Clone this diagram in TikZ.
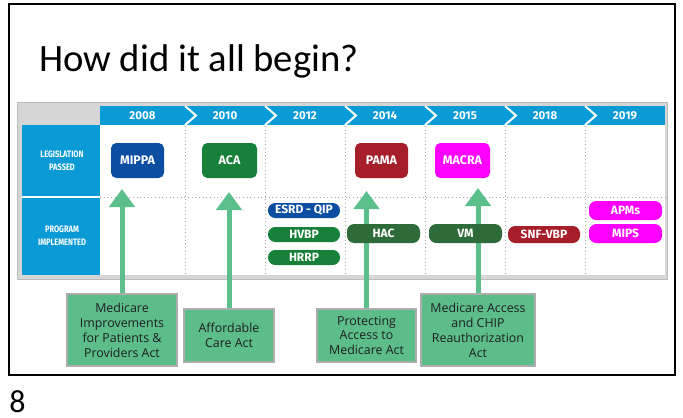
\documentclass[tikz,border=0pt]{standalone}
\usepackage{fontspec}
\setmainfont{Carlito}
\newfontfamily\firab{Fira Sans}
\newfontfamily\firacond[FakeStretch=0.8]{Fira Sans}
\newfontfamily\opens{Open Sans}
\usetikzlibrary{arrows.meta}
\definecolor{hdrblue}{HTML}{0A9AD6}
\definecolor{panelgray}{HTML}{D6D6D6}
\definecolor{paneledge}{HTML}{BBBBBB}
\definecolor{mipblue}{HTML}{0B4EA2}
\definecolor{acagreen}{HTML}{17813A}
\definecolor{pamared}{HTML}{A51E2A}
\definecolor{macmag}{HTML}{FF00FF}
\definecolor{hacgreen}{HTML}{2D6B39}
\definecolor{arrgreen}{HTML}{5BBF8C}
\definecolor{boxgreen}{HTML}{5CBD8B}
\definecolor{boxedge}{HTML}{ADADAD}
\definecolor{dotgray}{HTML}{A5A5A5}
\pgfdeclarelayer{bg}
\pgfdeclarelayer{mid}
\pgfsetlayers{bg,mid,main}
\tikzset{
  bw/.style={minimum width=#1*0.75pt},
  bh/.style={minimum height=#1*0.75pt},
  legbox/.style={rounded corners=4pt, inner sep=0pt, text=white, font=\firab\bfseries\fontsize{9.3}{10}\selectfont},
  progbox/.style={rounded corners=5.5pt, inner sep=0pt, text=white, font=\firab\bfseries\fontsize{9}{10}\selectfont},
  yearlbl/.style={text=white, inner sep=0pt, font=\firab\bfseries\fontsize{8.6}{10}\selectfont},
  sidelbl/.style={text=white, inner sep=0pt, align=center, font=\firacond\bfseries\fontsize{7}{9.5}\selectfont},
  actbox/.style={fill=boxgreen, draw=boxedge, line width=0.9pt, inner sep=0pt, align=center, text=black!88, font=\opens\fontsize{9.3}{11.2}\selectfont},
  uparrow/.style={draw=arrgreen, line width=3.75pt, -{Triangle[width=18.75pt, length=13.5pt]}},
  sep/.style={dotgray, dotted, line width=0.75pt},
  chev/.style={white, line width=1.5pt}
}
\begin{document}
\begin{tikzpicture}[x=0.75pt, y=-0.75pt]
\path[use as bounding box] (0,0) rectangle (683,418);
% panel
\begin{pgfonlayer}{bg}
\fill[white] (0,0) rectangle (683,418);
\fill[panelgray] (17,102) rectangle (668,280);
\draw[paneledge, line width=1.2pt] (17.5,102.5) rectangle (667.5,279.5);
\fill[white] (100,125) rectangle (665,275);
\fill[hdrblue] (100,106) rectangle (665,125);
\fill[hdrblue] (22,125) rectangle (100,275);
\draw[white, line width=0.8pt] (22,197) -- (100,197);
\foreach \x in {185,265,345,425,505,585}{
  \draw[sep] (\x,126) -- (\x,275);
  \draw[chev] (\x,106) -- (\x+11,115.5) -- (\x,125);
}
\draw[sep] (100,197) -- (665,197);
\end{pgfonlayer}
% slide frame
\draw[black, line width=1.6pt] (9,4) rectangle (675,375);
\node[anchor=base west, inner sep=0pt, font=\fontsize{29}{34}\selectfont] (title) at (39,71) {How did it all begin?};
\node[anchor=base west, inner sep=0pt, font=\fontsize{24}{28}\selectfont] (pagenum) at (9,412) {8};

\node[yearlbl] (y08) at (142.5,115.5) {2008};
\node[yearlbl] (y10) at (225,115.5) {2010};
\node[yearlbl] (y12) at (305,115.5) {2012};
\node[yearlbl] (y14) at (385,115.5) {2014};
\node[yearlbl] (y15) at (465,115.5) {2015};
\node[yearlbl] (y18) at (545,115.5) {2018};
\node[yearlbl] (y19) at (625,115.5) {2019};

\node[sidelbl] (leg) at (62,161) {LEGISLATION\\PASSED};
\node[sidelbl] (prog) at (62,236) {PROGRAM\\IMPLEMENTED};

% legislation
\node[legbox, fill=mipblue, bw=53, bh=35] (mippa) at (137.5,160.5) {MIPPA};
\node[legbox, fill=acagreen, bw=55, bh=35] (aca) at (229.5,160.5) {ACA};
\node[legbox, fill=pamared, bw=53, bh=35] (pama) at (381.5,160.5) {PAMA};
\node[legbox, fill=macmag, bw=55, bh=35] (macra) at (462.5,160.5) {MACRA};

% programs
\node[progbox, fill=mipblue, bw=72, bh=15] (esrd) at (304,210.5) {ESRD - QIP};
\node[progbox, fill=acagreen, bw=72, bh=15] (hvbp) at (304,234.5) {HVBP};
\node[progbox, fill=acagreen, bw=72, bh=15] (hrrp) at (304,257.5) {HRRP};
\node[progbox, fill=hacgreen, bw=73, bh=19] (hac) at (383.5,233.5) {HAC};
\node[progbox, fill=hacgreen, bw=73, bh=19] (vm) at (465.5,233.5) {VM};
\node[progbox, fill=pamared, bw=72, bh=17] (snf) at (544,234.5) {SNF-VBP};
\node[progbox, fill=macmag, bw=73, bh=19] (apms) at (625.5,210.5) {APMs};
\node[progbox, fill=macmag, bw=73, bh=19] (mips) at (625.5,233.5) {MIPS};

% acts
\node[actbox, bw=110, bh=72] (b1) at (122,330) {Medicare\\Improvements\\for Patients \&\\Providers Act};
\node[actbox, bw=90, bh=53] (b2) at (229,335.5) {Affordable\\Care Act};
\node[actbox, bw=99, bh=53] (b3) at (366.5,335.5) {Protecting\\Access to\\Medicare Act};
\node[actbox, bw=114, bh=72] (b4) at (478,330) {Medicare Access\\and CHIP\\Reauthorization\\Act};

\coordinate (t1) at (b1.north |- 0,189);
\coordinate (t2) at (b2.north |- 0,192);
\coordinate (t3) at (b3.north |- 0,191);
\coordinate (t4) at (b4.north |- 0,188);
\begin{pgfonlayer}{mid}
\draw[uparrow] (b1.north) -- (t1);
\draw[uparrow] (b2.north) -- (t2);
\draw[uparrow] (b3.north) -- (t3);
\draw[uparrow] (b4.north) -- (t4);
\end{pgfonlayer}
\end{tikzpicture}
\end{document}
